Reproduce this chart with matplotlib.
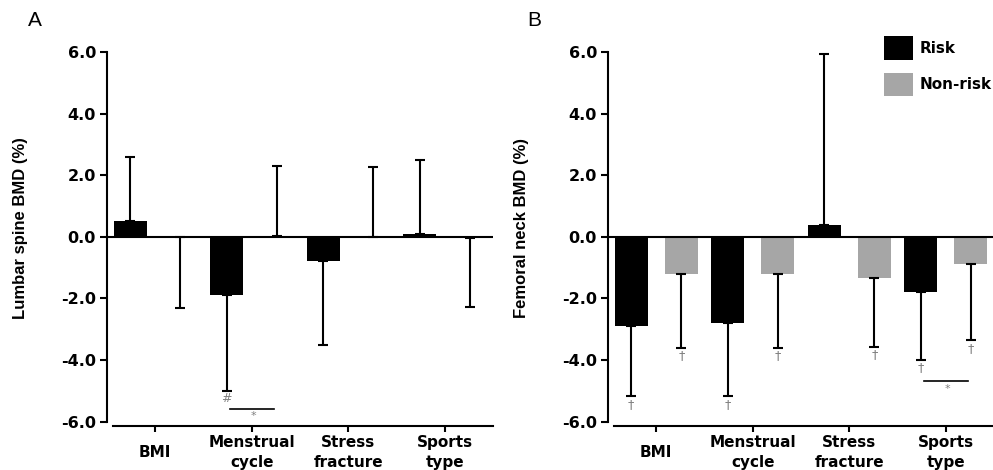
import matplotlib
matplotlib.use('Agg')
import matplotlib.pyplot as plt
import numpy as np
from matplotlib.patches import Patch

plt.rcParams['font.family'] = ['DejaVu Sans']
plt.rcParams['axes.unicode_minus'] = False

## data
categories = ['BMI', 'Menstrual\ncycle', 'Stress\nfracture', 'Sports\ntype']

lumbar_risk = [0.5, -1.9, -0.78, 0.09]
lumbar_risk_sd = [2.1, 3.1, 2.72, 2.41]
lumbar_nonrisk = [-0.01, 0.03, 0.01, -0.03]
lumbar_nonrisk_sd = [2.3, 2.27, 2.27, 2.25]
lumbar_risk_mark = ['', '#', '', '']
lumbar_nonrisk_mark = ['', '', '', '']

femoral_risk = [-2.9, -2.81, 0.38, -1.79]
femoral_risk_sd = [2.28, 2.37, 5.57, 2.2]
femoral_nonrisk = [-1.21, -1.21, -1.35, -0.89]
femoral_nonrisk_sd = [2.39, 2.39, 2.22, 2.47]
femoral_risk_mark = ['\u2020', '\u2020', '', '\u2020']
femoral_nonrisk_mark = ['\u2020', '\u2020', '\u2020', '\u2020']

# group index with "*" bracket between risk and non-risk, and its height
lumbar_star = (1, -5.58)
femoral_star = (3, -4.69)

yticks = [-6.0, -4.0, -2.0, 0.0, 2.0, 4.0, 6.0]

RISK = '#000000'
NONRISK = '#a6a6a6'
MARK = '#808080'


def draw_panel(ax, risk, risk_sd, nonrisk, nonrisk_sd, rmark, nmark, star, ylabel):
    x = np.arange(len(categories))
    off = 0.26
    w = 0.34
    for vals, sds, marks, col, dx in [(risk, risk_sd, rmark, RISK, -off),
                                      (nonrisk, nonrisk_sd, nmark, NONRISK, off)]:
        vals = np.array(vals)
        sds = np.array(sds)
        ax.bar(x + dx, vals, width=w, color=col, zorder=2)
        lower = np.where(vals < 0, sds, 0)
        upper = np.where(vals >= 0, sds, 0)
        ax.errorbar(x + dx, vals, yerr=[lower, upper], fmt='none', ecolor='black',
                    elinewidth=1.5, capsize=3.5, capthick=1.5, zorder=3, clip_on=False)
        for xi, v, s, m in zip(x + dx, vals, sds, marks):
            if m:
                ax.text(xi, v - s - 0.05, m, ha='center', va='top', fontsize=9,
                        color=MARK)

    ax.axhline(0, color='black', lw=1.5, zorder=4)

    # significance bracket
    g, yb = star
    ax.plot([g - 0.23, g + 0.23], [yb, yb], color='black', lw=1.2)
    ax.text(g + 0.02, yb - 0.08, '*', ha='center', va='top', fontsize=8, color=MARK)

    ax.set_xlim(-0.5, 3.5)
    ax.set_ylim(-6.14, 6.0)
    ax.set_yticks(yticks)
    ax.set_yticklabels(['%.1f' % t for t in yticks], fontsize=11.5, fontweight='bold')
    ax.set_xticks(x)
    ax.set_xticklabels(categories, fontsize=11, fontweight='bold', linespacing=1.45)
    for lbl in ax.get_xticklabels():
        lbl.set_verticalalignment('center')

    for s in ['top', 'right']:
        ax.spines[s].set_visible(False)
    ax.spines['left'].set_bounds(-6.0, 6.0)
    ax.spines['bottom'].set_bounds(-0.44, 3.5)
    ax.spines['left'].set_linewidth(1.5)
    ax.spines['bottom'].set_linewidth(1.5)
    ax.tick_params(axis='y', direction='out', length=5, width=1.5, pad=3)
    ax.tick_params(axis='x', direction='out', length=4, width=1.5, pad=15)

    ax.set_ylabel(ylabel, fontsize=12, fontweight='bold', family='Liberation Sans')
    ax.yaxis.set_label_coords(-0.205, 0.53)


fig = plt.figure(figsize=(9.93, 4.7), dpi=100)
axA = fig.add_axes([107 / 993, 44 / 470, 386 / 993, 374 / 470])
axB = fig.add_axes([608 / 993, 44 / 470, 386 / 993, 374 / 470])

draw_panel(axA, lumbar_risk, lumbar_risk_sd, lumbar_nonrisk, lumbar_nonrisk_sd,
           lumbar_risk_mark, lumbar_nonrisk_mark, lumbar_star, 'Lumbar spine BMD (%)')
draw_panel(axB, femoral_risk, femoral_risk_sd, femoral_nonrisk, femoral_nonrisk_sd,
           femoral_risk_mark, femoral_nonrisk_mark, femoral_star, 'Femoral neck BMD (%)')

fig.text(28 / 993, 1 - 30 / 470, 'A', fontsize=15, va='bottom', ha='left',
         family='Liberation Sans')
fig.text(527 / 993, 1 - 30 / 470, 'B', fontsize=15, va='bottom', ha='left',
         family='Liberation Sans')

handles = [Patch(facecolor=RISK, label='Risk'), Patch(facecolor=NONRISK, label='Non-risk')]
fig.legend(handles=handles, loc='upper left', bbox_to_anchor=(884 / 993, 1 - 36 / 470),
           frameon=False, borderpad=0, borderaxespad=0, handlelength=1.9,
           handleheight=2.0, labelspacing=0.85, handletextpad=0.4,
           prop={'size': 11, 'weight': 'bold'})

fig.savefig('out.png', dpi=100)
